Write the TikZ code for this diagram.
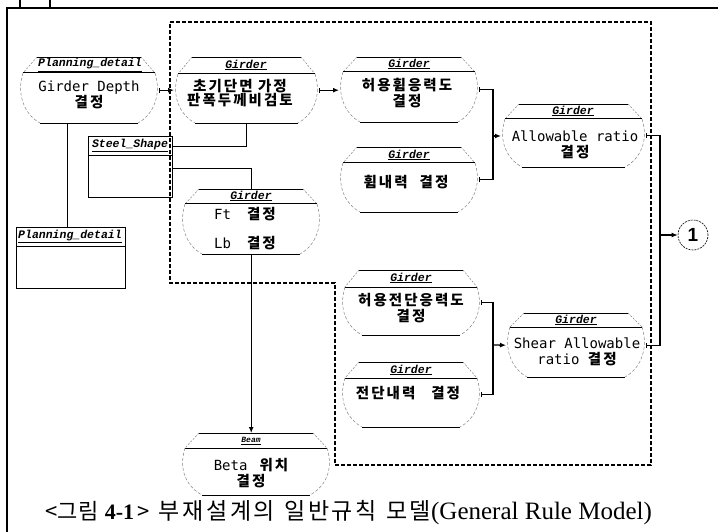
\documentclass[tikz,border=0pt]{standalone}
\usepackage{fontspec}
\setmainfont{DejaVu Sans Mono}
\newfontfamily\kr{Noto Sans CJK KR}[LetterSpace=14]
\newfontfamily\capkr{Noto Sans CJK KR}[LetterSpace=12]
\newfontfamily\capkrtight{Noto Sans CJK KR}[LetterSpace=2]
\newfontfamily\capser{Liberation Serif}
\newfontfamily\ttlfont{Liberation Mono}
\newfontfamily\onefont{Liberation Sans}
\usetikzlibrary{arrows.meta}
\newcommand\hg[1]{{\kr\bfseries\fontsize{14.5}{15.5}\selectfont #1}}
\tikzset{
  ttl/.style={inner sep=0pt, font=\ttlfont\bfseries\itshape\fontsize{11.5}{12}\selectfont},
  bodytxt/.style={inner sep=0pt, align=center, font=\fontsize{14}{15.5}\selectfont},
  gtop/.style={line width=0.7pt},
  gslant/.style={line width=0.5pt, gray, dash pattern=on 2pt off 1.5pt},
  gsep/.style={line width=1pt},
  gside/.style={line width=0.5pt, gray, dash pattern=on 3pt off 2pt},
  gbot/.style={line width=0.9pt},
  rbox/.style={draw, line width=0.9pt, inner sep=0pt, anchor=north west},
  dashreg/.style={line width=1.2pt, dash pattern=on 4pt off 2pt},
  link/.style={line width=1.3pt, {Bar[width=5pt,line width=1pt]}-},
  linkarr/.style={line width=1.3pt, {Bar[width=5pt,line width=1pt]}-{Latex[length=6pt,width=5pt]}},
  plain/.style={line width=1pt},
  plainarr/.style={line width=1.3pt, -{Latex[length=6pt,width=5pt]}},
}
% name, xl, xr, top, sep, bot
\newcommand\gshape[6]{%
  \pgfmathsetmacro\gw{#3-#2+8}\pgfmathsetmacro\gh{#6-#4}%
  \node[inner sep=0pt, minimum width=\gw pt, minimum height=\gh pt, anchor=north west] (#1) at (#2-4,#4) {};
  \draw[gtop] (#2+14,#4) -- (#3-14,#4);
  \draw[gslant] (#2+14,#4) -- (#2,#5) (#3-14,#4) -- (#3,#5);
  \draw[gsep] (#2,#5) -- (#3,#5);
  \draw[gside] (#2,#5) .. controls (#2-7,#5+22) and (#2+2,#6-8) .. (#2+17,#6);
  \draw[gside] (#3,#5) .. controls (#3+7,#5+22) and (#3-2,#6-8) .. (#3-17,#6);
  \draw[gbot] (#2+17,#6) -- (#3-17,#6);
}
\begin{document}
\begin{tikzpicture}[x=1pt,y=-1pt]
\useasboundingbox (0,0) rectangle (718,532);
% outer frame
\draw[line width=1.8pt] (7,532) -- (7,8) -- (718,8);
\draw[line width=1.5pt] (20,0) -- (20,8) (50,0) -- (50,8);
% dashed region
\draw[dashreg] (170,22) -- (651,22) -- (651,465) -- (335,465) -- (335,283) -- (170,283) -- cycle;

% shapes
\gshape{pd1}{23}{155}{57}{73}{123}
\node[ttl] (pd1t) at (90,65) {\underline{Planning\_detail}};
\node[bodytxt] (pd1b) at (89,95) {Girder Depth\\\hg{결정}};

\gshape{g1}{178}{315}{57}{74}{123}
\node[ttl] (g1t) at (246,65) {\underline{Girder}};
\node[bodytxt, font=\fontsize{14}{14}\selectfont] (g1b) at (240,93) {\hg{초기단면 가정}\\\hg{판폭두께비검토}};

\gshape{g2}{343}{475}{57}{72}{122}
\node[ttl] (g2t) at (409,64) {\underline{Girder}};
\node[bodytxt] (g2b) at (407,93) {\hg{허용휨응력도}\\\hg{결정}};

\gshape{g3}{343}{475}{147}{163}{212}
\node[ttl] (g3t) at (409,155) {\underline{Girder}};
\node[bodytxt] (g3b) at (406,182) {\hg{휨내력}\hspace{12pt}\hg{결정}};

\gshape{g4}{505}{642}{104}{119}{167}
\node[ttl] (g4t) at (573,111) {\underline{Girder}};
\node[bodytxt] (g4b) at (575,145) {Allowable ratio\\\hg{결정}};

\gshape{g5}{185}{317}{189}{204}{254}
\node[ttl] (g5t) at (251,196) {\underline{Girder}};
\node[bodytxt] (g5b1) at (245,214) {Ft\hspace{16pt}\hg{결정}};
\node[bodytxt] (g5b2) at (245,243) {Lb\hspace{16pt}\hg{결정}};

\gshape{g6}{345}{477}{270}{287}{335}
\node[ttl] (g6t) at (411,278) {\underline{Girder}};
\node[bodytxt] (g6b) at (411,308) {\hg{허용전단응력도}\\\hg{결정}};

\gshape{g7}{345}{477}{362}{378}{427}
\node[ttl] (g7t) at (411,370) {\underline{Girder}};
\node[bodytxt] (g7b) at (408,393) {\hg{전단내력}\hspace{16pt}\hg{결정}};

\gshape{g8}{510}{642}{313}{327}{377}
\node[ttl] (g8t) at (576,320) {\underline{Girder}};
\node[bodytxt] (g8b) at (577,352) {Shear Allowable\\ratio \hg{결정}};

\gshape{bm}{185}{327}{433}{448}{495}
\node[ttl, font=\ttlfont\bfseries\itshape\fontsize{8}{8}\selectfont] (bmt) at (251,441) {\underline{Beam}};
\node[bodytxt] (bmb) at (251,473) {Beta\hspace{12pt}\hg{위치}\\\hg{결정}};

% rectangular boxes
\node[rbox, minimum width=84pt, minimum height=61pt] (ss) at (88,136) {};
\draw[line width=0.9pt] ([yshift=-19pt]ss.north west) -- ([yshift=-19pt]ss.north east);
\node[ttl] (sst) at (130,145.5) {\underline{Steel\_Shape}};

\node[rbox, minimum width=109pt, minimum height=61pt] (pd2) at (16,227) {};
\draw[line width=0.9pt] ([yshift=-19pt]pd2.north west) -- ([yshift=-19pt]pd2.north east);
\node[ttl] (pd2t) at (70,236.5) {\underline{Planning\_detail}};

% circle
\node[circle, draw, line width=0.6pt, dash pattern=on 2pt off 1pt, minimum size=30pt, inner sep=0pt,
      font=\onefont\bfseries\fontsize{19}{19}\selectfont] (c1) at (693,235) {1};

% junctions
\coordinate (j1) at (493,136);
\coordinate (j2) at (660,235);
\coordinate (j3) at (493,345);

% connectors
\draw[linkarr] (pd1.east) -- (pd1.east -| g1.west);
\draw[linkarr] (g1.east) -- (g1.east -| g2.west);
\draw[link] (g2.east) -| (j1);
\draw[link] (g3.east) -| (j1);
\draw[plainarr] (j1) -- (j1 -| g4.west);
\draw[link] (g4.east) -| (j2);
\draw[link] (g8.east) -| (j2);
\draw[plainarr] (j2) -- (c1.west);
\draw[link] (g6.east) -| (j3);
\draw[link] (g7.east) -| (j3);
\draw[plainarr] (j3) -- (g8.west);
\draw[plain] (g1.south) |- ([yshift=-11pt]ss.north east);
\draw[plain] ([yshift=-1.5pt]ss.east) -| (g5.north);
\draw[plainarr] (g5.south) -- (g5.south |- bm.north);
\draw[plain] ([xshift=-22pt]pd1.south) -- ([xshift=-22pt]pd1.south |- pd2.north);

% caption
\node[anchor=west, inner sep=0pt] (cap) at (45,513) {\fontsize{22}{23}\selectfont{\capkrtight <그림}\hspace{6pt}{\capser\bfseries\fontsize{22}{22}\selectfont 4-1}\hspace{3pt}{\capkrtight >}\hspace{9pt}{\capkr\fontsize{23}{23}\selectfont 부재설계의}\hspace{9pt}{\capkr\fontsize{23}{23}\selectfont 일반규칙}\hspace{9pt}{\capkr\fontsize{23}{23}\selectfont 모델}{\capser\fontsize{25}{25}\selectfont (General Rule Model)}};
\end{tikzpicture}
\end{document}
